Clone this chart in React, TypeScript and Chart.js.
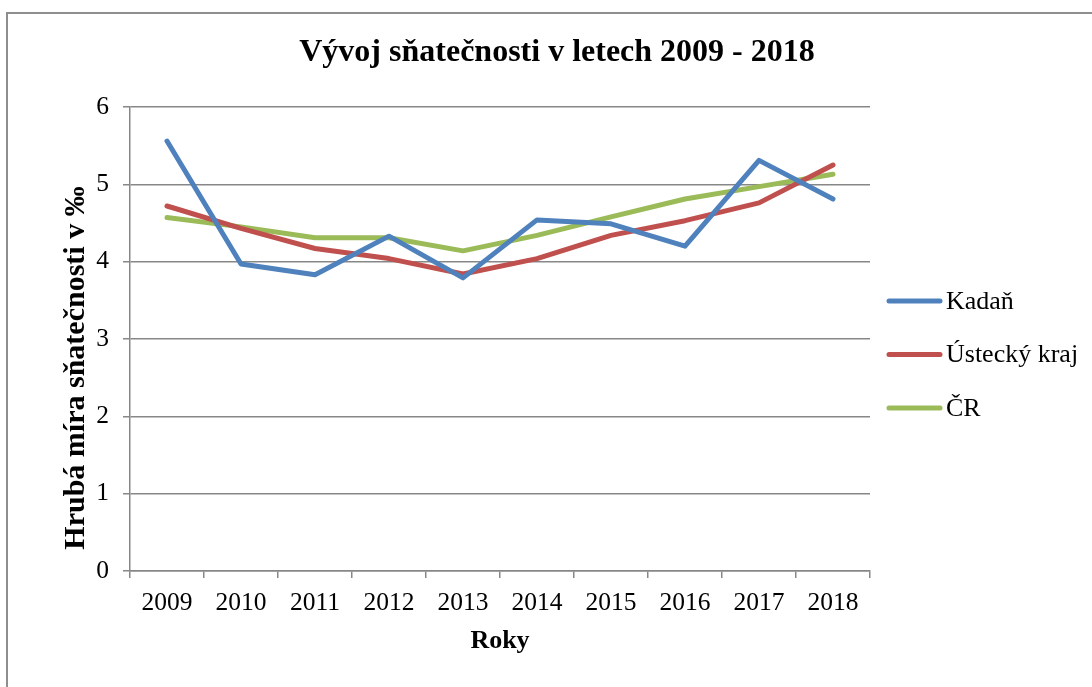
import React, { useEffect, useRef } from "react";
import { Chart, registerables } from "chart.js";

Chart.register(...registerables);

const years = ["2009", "2010", "2011", "2012", "2013", "2014", "2015", "2016", "2017", "2018"];
const kadan = [5.56, 3.97, 3.83, 4.33, 3.79, 4.54, 4.49, 4.2, 5.31, 4.81];
const ustecky = [4.72, 4.43, 4.17, 4.04, 3.84, 4.04, 4.34, 4.53, 4.76, 5.25];
const cr = [4.57, 4.45, 4.31, 4.31, 4.14, 4.34, 4.58, 4.81, 4.97, 5.13];
const seriesNames = ["Kadaň", "Ústecký kraj", "ČR"];
const seriesColors = ["#4F81BD", "#C0504D", "#9BBB59"];
const titleText = "Vývoj sňatečnosti v letech 2009 - 2018";
const xTitle = "Roky";
const yTitle = "Hrubá míra sňatečnosti v ‰";

const FONT = '"Liberation Serif", "Times New Roman", "DejaVu Serif", serif';
const GRID = "#878787";

const overlayPlugin = {
  id: "overlay",
  afterDraw(chart: any) {
    const ctx = chart.ctx;
    ctx.save();
    // title
    ctx.fillStyle = "#000";
    ctx.font = `bold 32px ${FONT}`;
    ctx.textAlign = "center";
    ctx.textBaseline = "middle";
    ctx.fillText(titleText, 557, 53);
    // y axis title
    ctx.save();
    ctx.translate(76, 368);
    ctx.rotate(-Math.PI / 2);
    ctx.font = `bold 30px ${FONT}`;
    ctx.textAlign = "center";
    ctx.textBaseline = "middle";
    ctx.fillText(yTitle, 0, 0);
    ctx.restore();
    // legend
    const startY = 301;
    const gap = 53.5;
    chart.data.datasets.forEach((ds: any, i: number) => {
      const y = startY + i * gap;
      ctx.strokeStyle = ds.borderColor;
      ctx.lineWidth = 5;
      ctx.lineCap = "round";
      ctx.beginPath();
      ctx.moveTo(889, y);
      ctx.lineTo(940, y);
      ctx.stroke();
      ctx.fillStyle = "#000";
      ctx.font = `26px ${FONT}`;
      ctx.textAlign = "left";
      ctx.textBaseline = "middle";
      ctx.fillText(ds.label, 946, y + 1);
    });
    ctx.restore();
  },
};

export default function App() {
  const ref = useRef<HTMLCanvasElement>(null);
  useEffect(() => {
    if (!ref.current) return;
    const datasets = [kadan, ustecky, cr].map((d, i) => ({
      label: seriesNames[i],
      data: d,
      borderColor: seriesColors[i],
      backgroundColor: seriesColors[i],
      borderWidth: 5,
      pointRadius: 0,
      borderCapStyle: "round" as const,
      borderJoinStyle: "round" as const,
      tension: 0,
    }));
    const chart = new Chart(ref.current, {
      type: "line",
      data: { labels: years, datasets },
      options: {
        animation: false,
        responsive: false,
        maintainAspectRatio: false,
        layout: { padding: { top: 107, right: 222, left: 0, bottom: 0 } },
        plugins: { legend: { display: false }, title: { display: false }, tooltip: { enabled: false } },
        scales: {
          x: {
            offset: true,
            afterFit: (s: any) => {
              s.height = 116;
            },
            grid: {
              offset: true,
              drawOnChartArea: false,
              drawTicks: true,
              tickLength: 7,
              color: GRID,
              lineWidth: 1.5,
            },
            border: { color: GRID, width: 1.5 },
            ticks: {
              color: "#000",
              font: { family: FONT, size: 25.5 },
              padding: 10,
              maxRotation: 0,
            },
            title: {
              display: true,
              text: xTitle,
              color: "#000",
              font: { family: FONT, size: 26, weight: "bold" },
              padding: { top: 0, bottom: 30 },
            },
          },
          y: {
            min: 0,
            max: 6,
            afterFit: (s: any) => {
              s.width = 130;
            },
            grid: {
              drawTicks: true,
              tickLength: 7,
              color: GRID,
              lineWidth: 1.5,
            },
            border: { color: GRID, width: 1.5 },
            ticks: {
              stepSize: 1,
              color: "#000",
              font: { family: FONT, size: 25.5 },
              padding: 14,
            },
            title: { display: false },
          },
        },
      },
      plugins: [overlayPlugin],
    });
    return () => chart.destroy();
  }, []);
  return (
    <div style={{ position: "fixed", left: 0, top: 0, width: 1092, height: 687, background: "#fff", overflow: "hidden" }}>
      <div
        style={{
          position: "absolute",
          left: 6,
          top: 12,
          width: 1200,
          height: 800,
          borderLeft: "2px solid #8e8e8e",
          borderTop: "2px solid #8e8e8e",
        }}
      />
      <canvas ref={ref} width={1092} height={687} style={{ position: "absolute", left: 0, top: 0 }} />
    </div>
  );
}
